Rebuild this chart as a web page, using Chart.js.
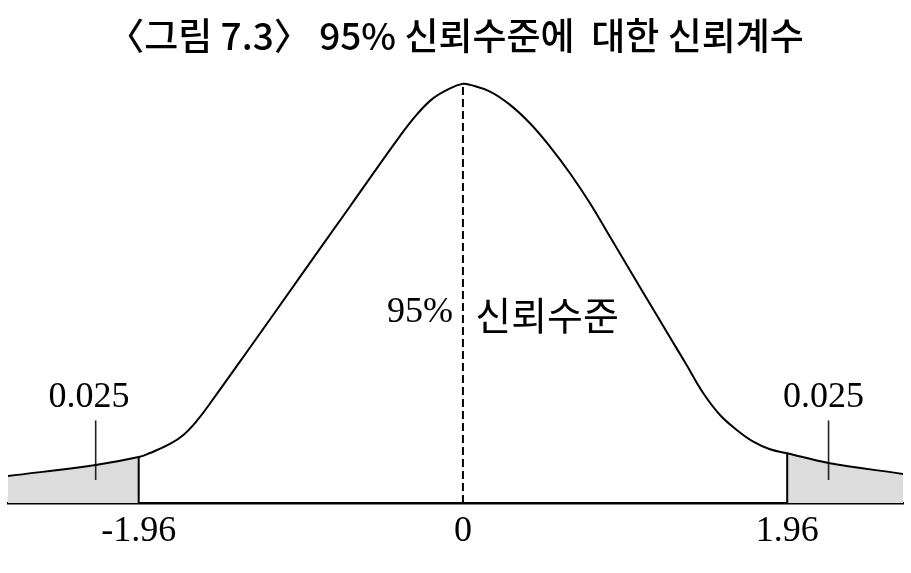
<!DOCTYPE html>
<html>
<head>
<meta charset="utf-8">
<script src="https://cdn.jsdelivr.net/npm/chart.js@4/dist/chart.umd.min.js"></script>
<style>
  html, body { margin: 0; padding: 0; background: #ffffff; }
  #wrap { width: 911px; height: 573px; position: relative; }
</style>
</head>
<body>
<div id="wrap"><canvas id="c" width="911" height="573"></canvas></div>
<script>
// ---- data ----
const titleText = '〈그림 7.3〉 95% 신뢰수준에  대한 신뢰계수';
const tickValues = [-1.96, 0, 1.96];
const criticalValues = [-1.96, 1.96];
const curveX = [-2.75, -2.22, -1.96, -1.892, -1.771, -1.690, -1.609, -1.529, -1.287, -0.985, -0.683,
                -0.380, -0.278, -0.181, -0.078, 0, 0.043, 0.164, 0.285, 0.405, 0.526, 0.647, 0.768,
                0.889, 1.090, 1.252, 1.353, 1.453, 1.554, 1.655, 1.755, 1.856, 1.96, 2.21, 2.66];
const curveY = [0.0258, 0.0364, 0.0440, 0.0478, 0.0565, 0.0651, 0.0785, 0.0952, 0.1488, 0.2163, 0.2837,
                0.3512, 0.3718, 0.3871, 0.3967, 0.4010, 0.4000, 0.3936, 0.3809, 0.3633, 0.3410, 0.3155, 0.2868,
                0.2547, 0.2012, 0.1584, 0.1317, 0.1050, 0.0842, 0.0699, 0.0587, 0.0514, 0.0476, 0.0383, 0.0278];
const tailLabel = '0.025';
const tailLeaderX = [-2.22, 2.21];
const tailLeaderY = [0.022, 0.079];
const centerLabelLeft = '95%';
const centerLabelRight = '신뢰수준';

// ---- build datasets ----
const curve = curveX.map((x, i) => ({ x, y: curveY[i] }));
const leftTail = curve.filter(p => p.x <= criticalValues[0]);
const rightTail = curve.filter(p => p.x >= criticalValues[1]);
const yAt = x => curveY[curveX.indexOf(x)];

const datasets = [
  { data: curve, borderColor: '#000', borderWidth: 2, pointRadius: 0, fill: false,
    tension: 0.4, order: 0 },
  { data: leftTail, borderWidth: 0, borderColor: 'rgba(0,0,0,0)', backgroundColor: '#dcdcdc',
    pointRadius: 0, fill: 'origin', tension: 0.4, order: 10 },
  { data: rightTail, borderWidth: 0, borderColor: 'rgba(0,0,0,0)', backgroundColor: '#dcdcdc',
    pointRadius: 0, fill: 'origin', tension: 0.4, order: 10 },
  { data: [{ x: 0, y: 0 }, { x: 0, y: yAt(0) }], borderColor: '#000', borderWidth: 2,
    borderDash: [8, 4], pointRadius: 0, fill: false, order: 1 }
];
criticalValues.forEach(v => datasets.push({
  data: [{ x: v, y: 0 }, { x: v, y: yAt(v) }], borderColor: '#000', borderWidth: 2,
  pointRadius: 0, fill: false, order: 1
}));
tailLeaderX.forEach(v => datasets.push({
  data: [{ x: v, y: tailLeaderY[0] }, { x: v, y: tailLeaderY[1] }], borderColor: '#222', borderWidth: 1.6,
  pointRadius: 0, fill: false, order: 1
}));

// text annotations placed through the chart scales
const textPlugin = {
  id: 'texts',
  afterDatasetsDraw(chart) {
    const { ctx, scales: { x, y } } = chart;
    ctx.save();
    ctx.fillStyle = '#000';
    ctx.textBaseline = 'middle';
    ctx.font = '36px "Liberation Serif"';
    ctx.textAlign = 'center';
    ctx.fillText(tailLabel, x.getPixelForValue(-2.26), y.getPixelForValue(0.101));
    ctx.fillText(tailLabel, x.getPixelForValue(2.18), y.getPixelForValue(0.101));
    ctx.textAlign = 'right';
    ctx.fillText(centerLabelLeft, x.getPixelForValue(-0.06), y.getPixelForValue(0.182));
    ctx.textAlign = 'left';
    ctx.font = '39px "Noto Sans CJK KR"';
    ctx.fillText(centerLabelRight, x.getPixelForValue(0.075), y.getPixelForValue(0.180));
    ctx.restore();
  }
};

new Chart(document.getElementById('c'), {
  type: 'line',
  data: { datasets },
  plugins: [textPlugin],
  options: {
    responsive: false,
    animation: false,
    events: [],
    layout: { padding: { left: 8, right: 8, bottom: 12, top: 0 } },
    plugins: {
      legend: { display: false },
      tooltip: { enabled: false },
      title: {
        display: true, text: titleText, color: '#000',
        font: { family: '"Noto Sans CJK KR"', size: 37, weight: '500' },
        padding: { top: 14, bottom: 5.6 }
      }
    },
    scales: {
      x: {
        type: 'linear', min: curveX[0], max: curveX[curveX.length - 1],
        grid: { display: false, drawTicks: false },
        border: { display: true, color: '#000', width: 2.5 },
        afterBuildTicks: s => { s.ticks = tickValues.map(v => ({ value: v })); },
        ticks: {
          autoSkip: false, maxRotation: 0, padding: 7.4, color: '#000',
          font: { family: '"Liberation Serif"', size: 36 },
          callback: v => String(v)
        }
      },
      y: { display: false, min: 0, max: 0.42 }
    }
  }
});
</script>
</body>
</html>
